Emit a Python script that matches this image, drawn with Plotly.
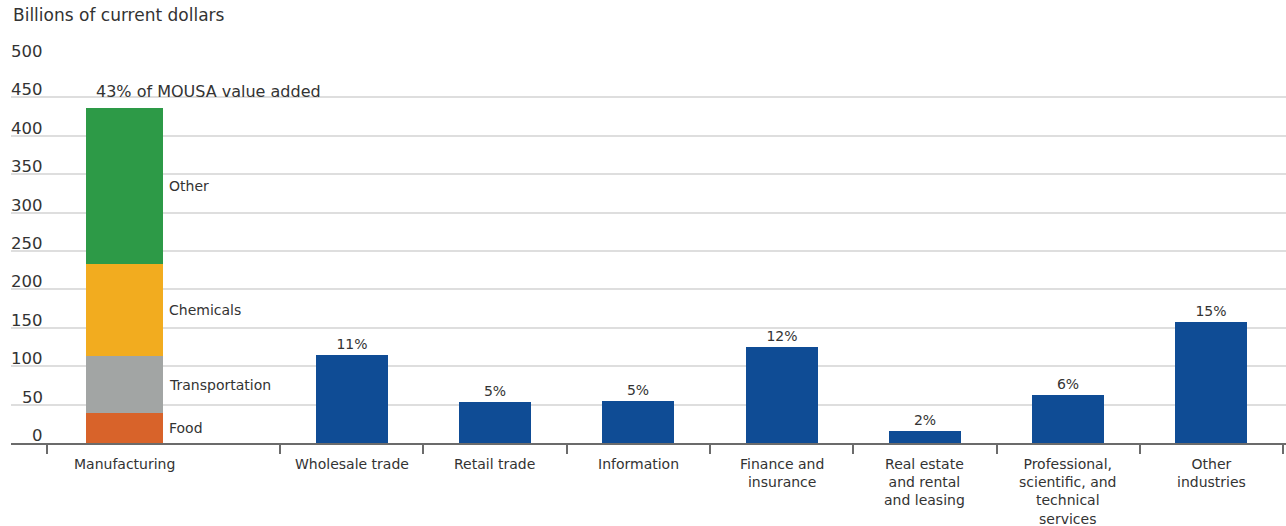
import plotly.graph_objects as go

# ---- data -------------------------------------------------------------
categories = [
    "Manufacturing",
    "Wholesale trade",
    "Retail trade",
    "Information",
    "Finance and<br>insurance",
    "Real estate<br>and rental<br>and leasing",
    "Professional,<br>scientific, and<br>technical<br>services",
    "Other<br>industries",
]

mfg_segments = ["Food", "Transportation", "Chemicals", "Other"]
mfg_values = [39, 74, 120, 203]
mfg_share = "43% of MOUSA value added"

industry_values = [114, 53, 55, 125, 16, 63, 157]
industry_shares = ["11%", "5%", "5%", "12%", "2%", "6%", "15%"]

y_ticks = [0, 50, 100, 150, 200, 250, 300, 350, 400, 450, 500]
y_title = "Billions of current dollars"

# ---- styling ----------------------------------------------------------
FONT = "DejaVu Sans"
TEXT = "#333333"
seg_colors = ["#d8632a", "#a2a5a4", "#f2ac1f", "#2d9a47"]
BLUE = "#0f4c95"

# horizontal layout (axis units ~ pixels): manufacturing gets a wide slot
first_edge = 36
mfg_slot = 233
slot = 143.3
bar_w = 72
mfg_bar_w = 77

edges = [first_edge, first_edge + mfg_slot]
for i in range(len(industry_values)):
    edges.append(edges[-1] + slot)
centers = [(edges[i] + edges[i + 1]) / 2 for i in range(len(categories))]
mfg_x = centers[0] - 39
label_x = [mfg_x] + centers[1:]

fig = go.Figure()

# stacked manufacturing bar
base = 0
for name, val, col in zip(mfg_segments, mfg_values, seg_colors):
    fig.add_trace(go.Bar(
        x=[mfg_x], y=[val], base=[base], width=mfg_bar_w,
        marker=dict(color=col, line=dict(width=0)),
        name=name, showlegend=False, hoverinfo="skip",
    ))
    fig.add_annotation(
        x=mfg_x + mfg_bar_w / 2 + 4, y=base + val / 2, text=name,
        xanchor="left", yanchor="middle", showarrow=False,
        font=dict(family=FONT, size=14, color=TEXT),
    )
    base += val

fig.add_annotation(
    x=mfg_x - mfg_bar_w / 2 + 8, y=base, text=mfg_share,
    xanchor="left", yanchor="bottom", yshift=5, showarrow=False,
    font=dict(family=FONT, size=16, color=TEXT),
)

# other industries
fig.add_trace(go.Bar(
    x=centers[1:], y=industry_values, width=bar_w,
    marker=dict(color=BLUE, line=dict(width=0)),
    text=industry_shares, textposition="outside",
    textfont=dict(family=FONT, size=14, color=TEXT),
    cliponaxis=False, showlegend=False, hoverinfo="skip",
))

# category labels under the axis
for cx, lab in zip(label_x, categories):
    fig.add_annotation(
        x=cx, y=0, text=lab, xanchor="center", yanchor="top",
        yshift=-11, showarrow=False, align="center",
        font=dict(family=FONT, size=14, color=TEXT),
    )

# y tick labels placed just above each gridline
for v in y_ticks:
    fig.add_annotation(
        xref="paper", x=0, xshift=34, y=v, text=str(v),
        xanchor="right", yanchor="bottom", yshift=-4, showarrow=False,
        font=dict(family=FONT, size=16.5, color=TEXT),
    )

fig.add_annotation(
    xref="paper", yref="paper", x=0, xshift=0, y=1, yshift=32, text=y_title,
    xanchor="left", yanchor="bottom", showarrow=False,
    font=dict(family=FONT, size=17, color=TEXT),
)

fig.update_layout(
    width=1286, height=526,
    margin=dict(l=11, r=0, t=59, b=83),
    paper_bgcolor="white", plot_bgcolor="white",
    bargap=0, barmode="overlay",
    xaxis=dict(
        range=[0, 1275], showgrid=False, zeroline=False,
        showline=True, linecolor="#6b6b6b", linewidth=2,
        ticks="outside", tickvals=edges, ticklen=9, tickwidth=2,
        tickcolor="#6b6b6b", showticklabels=False,
    ),
    yaxis=dict(
        range=[0, 500], tickvals=y_ticks, showticklabels=False,
        showgrid=True, gridcolor="#dedede", gridwidth=2,
        zeroline=False, showline=False,
    ),
)

fig.write_html("out.html")
